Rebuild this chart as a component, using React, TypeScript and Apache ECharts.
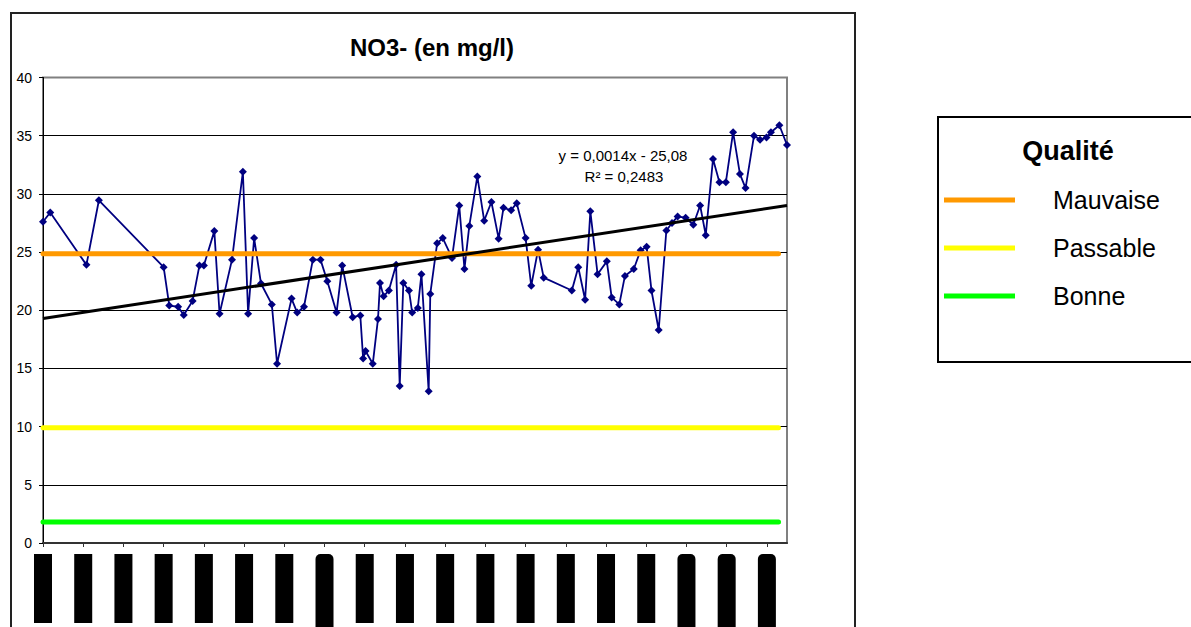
import React, { useEffect, useRef } from 'react';
import * as echarts from 'echarts';

// Sampling dates (decimal years) and NO3- values (mg/l)
const dates = [
  1985.00, 1985.18, 1986.08, 1986.39, 1988.00, 1988.14, 1988.36, 1988.50, 1988.72, 1988.89,
  1989.00, 1989.26, 1989.39, 1989.70, 1989.97, 1990.10, 1990.25, 1990.42, 1990.69, 1990.82,
  1991.18, 1991.32, 1991.49, 1991.71, 1991.90, 1992.07, 1992.30, 1992.44, 1992.70, 1992.89,
  1992.96, 1993.02, 1993.20, 1993.33, 1993.38, 1993.47, 1993.60, 1993.78, 1993.87, 1993.96,
  1994.10, 1994.18, 1994.32, 1994.41, 1994.59, 1994.63, 1994.80, 1994.94, 1995.17, 1995.35,
  1995.48, 1995.60, 1995.80, 1995.97, 1996.15, 1996.33, 1996.45, 1996.64, 1996.78, 1997.00,
  1997.14, 1997.31, 1997.45, 1998.15, 1998.31, 1998.48, 1998.61, 1998.79, 1999.02, 1999.14,
  1999.33, 1999.47, 1999.69, 1999.86, 2000.01, 2000.13, 2000.31, 2000.50, 2000.64, 2000.78,
  2000.98, 2001.17, 2001.34, 2001.48, 2001.66, 2001.82, 2001.98, 2002.16, 2002.33, 2002.47,
  2002.68, 2002.83, 2002.99, 2003.10, 2003.31, 2003.50,
];
const no3 = [
  27.6, 28.4, 23.9, 29.45, 23.7, 20.4, 20.3, 19.6, 20.8, 23.85,
  23.85, 26.8, 19.7, 24.35, 31.9, 19.7, 26.2, 22.3, 20.5, 15.4,
  21.0, 19.8, 20.3, 24.35, 24.35, 22.5, 19.8, 23.85, 19.4, 19.55,
  15.85, 16.5, 15.4, 19.25, 22.35, 21.2, 21.7, 23.9, 13.5, 22.35,
  21.7, 19.8, 20.2, 23.1, 13.05, 21.4, 25.75, 26.2, 24.5, 29.0,
  23.55, 27.25, 31.5, 27.7, 29.3, 26.15, 28.8, 28.6, 29.2, 26.2,
  22.1, 25.2, 22.8, 21.7, 23.7, 20.9, 28.5, 23.1, 24.2, 21.1,
  20.5, 22.95, 23.55, 25.15, 25.45, 21.7, 18.3, 26.85, 27.5, 28.05,
  27.95, 27.35, 29.0, 26.45, 33.0, 31.0, 31.0, 35.3, 31.7, 30.5,
  35.0, 34.65, 34.85, 35.3, 35.9, 34.2,
];

// Linear trend line end points
const trendX = [1985.0, 2003.5];
const trendY = [19.3, 29.0];

// Quality thresholds
const thresholdNames = ['Mauvaise', 'Passable', 'Bonne'];
const thresholdValues = [24.85, 9.9, 1.8];
const thresholdColors = ['#FF9900', '#FFFF00', '#00FF00'];
const thresholdX = [1985.0, 2003.29];

// X axis ticks (yearly) and their labels
const tickYears = [1985, 1986, 1987, 1988, 1989, 1990, 1991, 1992, 1993, 1994, 1995, 1996, 1997, 1998, 1999, 2000, 2001, 2002, 2003];
const tickLabels = ['1985', '1986', '1987', '1988', '1989', '1990', '1991', '1992', '1993', '1994', '1995', '1996', '1997', '1998', '1999', '2000', '2001', '2002', '2003'];
const tallTicks = [1992, 2001, 2002, 2003];

const yTicks = [0, 5, 10, 15, 20, 25, 30, 35, 40];

export default function App() {
  const ref = useRef<HTMLDivElement>(null);
  useEffect(() => {
    const chart = echarts.init(ref.current!, null, { renderer: 'svg' });
    const font = 'Liberation Sans, Arial, sans-serif';
    const thresholdSeries = thresholdNames.map((name, i) => ({
      name,
      type: 'line',
      data: thresholdX.map((x) => [x, thresholdValues[i]]),
      symbol: 'none',
      lineStyle: { color: thresholdColors[i], width: 5, cap: 'round' },
      itemStyle: { color: thresholdColors[i] },
      z: 3,
    }));
    chart.setOption({
      animation: false,
      textStyle: { fontFamily: font },
      grid: {
        left: 43,
        right: 404,
        top: 77.5,
        bottom: 84,
        outerBoundsMode: 'none',
        containLabel: false,
        show: true,
        borderColor: '#808080',
        borderWidth: 2,
        backgroundColor: 'transparent',
      },
      xAxis: {
        type: 'value',
        min: 1985,
        max: 2003.5,
        interval: 1,
        axisLine: { show: true, onZero: false, lineStyle: { color: '#333', width: 2 } },
        axisTick: { show: true, length: 4, customValues: tickYears, lineStyle: { color: '#333' } },
        splitLine: { show: false },
        axisLabel: {
          customValues: tickYears,
          rotate: 90,
          margin: 11,
          hideOverlap: false,
          formatter: (v: number) => {
            const idx = tickYears.indexOf(Math.round(v));
            const txt = idx >= 0 ? tickLabels[idx] : '';
            return tallTicks.indexOf(Math.round(v)) >= 0 ? `{t|${txt}}` : `{n|${txt}}`;
          },
          rich: {
            n: { width: 69, height: 18, backgroundColor: '#000', color: '#000', fontSize: 12, align: 'right' },
            t: { width: 76, height: 18, backgroundColor: '#000', color: '#000', fontSize: 12, align: 'right', borderRadius: [0, 5, 5, 0] },
          },
        },
      },
      yAxis: {
        type: 'value',
        min: 0,
        max: 40,
        interval: 5,
        axisLine: { show: true, lineStyle: { color: '#000', width: 1 } },
        axisTick: { show: true, length: 4, lineStyle: { color: '#000' } },
        axisLabel: { color: '#000', fontSize: 14, margin: 11, fontFamily: font },
        splitLine: {
          show: true,
          lineStyle: { color: yTicks.map((t) => (t === 40 ? '#808080' : '#000')), width: 1 },
        },
      },
      legend: {
        data: thresholdNames,
        orient: 'vertical',
        left: 939,
        top: 179,
        icon: 'rect',
        itemWidth: 71,
        itemHeight: 5,
        itemGap: 16,
        selectedMode: false,
        textStyle: { fontSize: 25, lineHeight: 24, color: '#000', fontFamily: font, padding: [8, 0, 0, 33] },
      },
      graphic: [
        {
          type: 'rect',
          shape: { x: 11, y: 13, width: 844, height: 700 },
          style: { fill: 'none', stroke: '#222', lineWidth: 2 },
          silent: true,
          z: -1,
        },
        {
          type: 'rect',
          shape: { x: 938, y: 117, width: 300, height: 245 },
          style: { fill: 'none', stroke: '#000', lineWidth: 2 },
          silent: true,
          z: -1,
        },
        {
          type: 'text',
          x: 432,
          y: 47,
          style: { text: 'NO3- (en mg/l)', font: `bold 24px ${font}`, fill: '#000', textAlign: 'center', textVerticalAlign: 'middle' },
        },
        {
          type: 'text',
          x: 1068,
          y: 151,
          style: { text: 'Qualité', font: `bold 27px ${font}`, fill: '#000', textAlign: 'center', textVerticalAlign: 'middle' },
        },
        {
          type: 'text',
          x: 623,
          y: 155,
          style: { text: 'y = 0,0014x - 25,08', font: `15px ${font}`, fill: '#000', textAlign: 'center', textVerticalAlign: 'middle' },
        },
        {
          type: 'text',
          x: 624,
          y: 176,
          style: { text: 'R² = 0,2483', font: `15px ${font}`, fill: '#000', textAlign: 'center', textVerticalAlign: 'middle' },
        },
      ],
      series: [
        {
          name: 'NO3-',
          type: 'line',
          data: dates.map((d, i) => [d, no3[i]]),
          symbol: 'diamond',
          symbolSize: 8,
          lineStyle: { color: '#000080', width: 1.8 },
          itemStyle: { color: '#000080' },
          z: 2,
        },
        ...thresholdSeries,
        {
          name: 'Tendance',
          type: 'line',
          data: trendX.map((x, i) => [x, trendY[i]]),
          symbol: 'none',
          lineStyle: { color: '#000', width: 3 },
          itemStyle: { color: '#000' },
          z: 4,
        },
      ],
    });
    return () => chart.dispose();
  }, []);
  return (
    <div
      ref={ref}
      style={{ position: 'fixed', left: 0, top: 0, width: 1191, height: 627, background: '#fff' }}
    />
  );
}
